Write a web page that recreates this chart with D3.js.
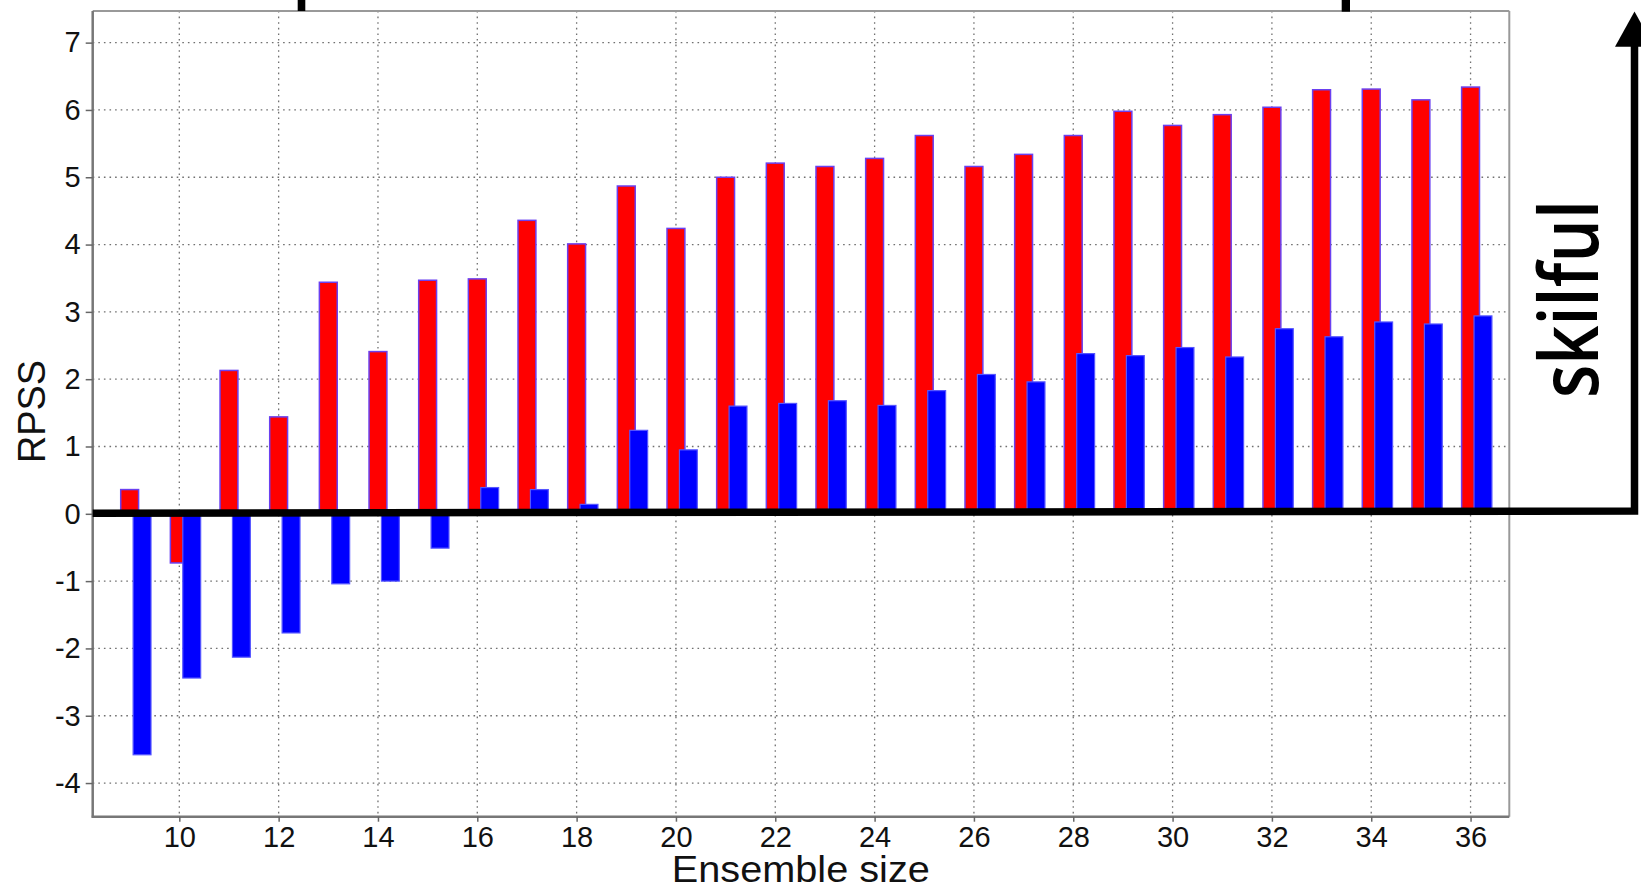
<!DOCTYPE html>
<html>
<head>
<meta charset="utf-8">
<script src="https://cdn.jsdelivr.net/npm/d3@7"></script>
<style>
  html, body { margin: 0; padding: 0; background: #fff; }
  svg { display: block; }
</style>
</head>
<body>
<svg id="chart" width="1641" height="890"></svg>
<script>
// ---- data ----
const categories = [9,10,11,12,13,14,15,16,17,18,19,20,21,22,23,24,25,26,27,28,29,30,31,32,33,34,35,36];
const redValues  = [0.36,-0.73,2.13,1.44,3.44,2.41,3.47,3.49,4.36,4.01,4.87,4.24,5.0,5.21,5.16,5.28,5.62,5.16,5.34,5.62,5.98,5.77,5.93,6.04,6.30,6.31,6.15,6.34];
const blueValues = [-3.58,-2.44,-2.13,-1.77,-1.04,-1.0,-0.51,0.39,0.36,0.14,1.24,0.95,1.6,1.64,1.68,1.61,1.83,2.07,1.96,2.38,2.35,2.47,2.33,2.75,2.63,2.85,2.82,2.94];
const xTicks = [10,12,14,16,18,20,22,24,26,28,30,32,34,36];
const yTicks = [-4,-3,-2,-1,0,1,2,3,4,5,6,7];
const xLabel = "Ensemble size";
const yLabel = "RPSS";
const sideLabel = "skilful";

// ---- layout ----
const svg = d3.select("#chart");
const L = 92.7, R = 1509.3, T = 11, B = 816.7;
const x = d3.scaleLinear().domain([8.256, 36.78]).range([L, R]);
const y = d3.scaleLinear().domain([-4.5, 7.47]).range([B, T]);
const barW = 0.36, blueOff = 0.25;
const font = "'Liberation Sans', Arial, Helvetica, sans-serif";

// gridlines
const grid = svg.append("g");
grid.selectAll("line.gx").data(xTicks).join("line")
  .attr("x1", d => x(d)).attr("x2", d => x(d)).attr("y1", T).attr("y2", B)
  .attr("stroke", "#707070").attr("stroke-width", 1.3).attr("stroke-dasharray", "1.6,4");
grid.selectAll("line.gy").data(yTicks).join("line")
  .attr("x1", L).attr("x2", R).attr("y1", d => y(d)).attr("y2", d => y(d))
  .attr("stroke", "#707070").attr("stroke-width", 1.3).attr("stroke-dasharray", "1.6,4");

// frame
svg.append("line").attr("x1", L).attr("x2", R).attr("y1", T).attr("y2", T).attr("stroke", "#999").attr("stroke-width", 2);
svg.append("line").attr("x1", R).attr("x2", R).attr("y1", T).attr("y2", B).attr("stroke", "#999").attr("stroke-width", 2);
svg.append("line").attr("x1", L).attr("x2", L).attr("y1", T).attr("y2", B + 1).attr("stroke", "#777").attr("stroke-width", 2.5);
svg.append("line").attr("x1", L - 1).attr("x2", R).attr("y1", B).attr("y2", B).attr("stroke", "#777").attr("stroke-width", 2.5);

// axes
const yAxis = svg.append("g").attr("transform", `translate(${L},0)`)
  .call(d3.axisLeft(y).tickValues(yTicks).tickSize(7).tickPadding(5).tickFormat(d => String(d)));
const xAxis = svg.append("g").attr("transform", `translate(0,${B})`)
  .call(d3.axisBottom(x).tickValues(xTicks).tickSize(5).tickPadding(4.5).tickFormat(d => String(d)));
[xAxis, yAxis].forEach(g => {
  g.select(".domain").remove();
  g.selectAll(".tick line").attr("stroke", "#666").attr("stroke-width", 1.5);
  g.selectAll(".tick text").attr("font-family", font).attr("font-size", 29).attr("fill", "#111");
});

// bars
const data = categories.map((c, i) => ({ c, r: redValues[i], b: blueValues[i] }));
const bars = svg.append("g");
data.forEach(d => {
  bars.append("rect")
    .attr("x", x(d.c - barW / 2)).attr("width", x(d.c + barW / 2) - x(d.c - barW / 2))
    .attr("y", y(Math.max(0, d.r))).attr("height", Math.abs(y(d.r) - y(0)))
    .attr("fill", "#ff0000").attr("stroke", "#6a40f0").attr("stroke-width", 1.5);
  bars.append("rect")
    .attr("x", x(d.c + blueOff - barW / 2)).attr("width", x(d.c + blueOff + barW / 2) - x(d.c + blueOff - barW / 2))
    .attr("y", y(Math.max(0, d.b))).attr("height", Math.abs(y(d.b) - y(0)))
    .attr("fill", "#0000ff").attr("stroke", "#5555ff").attr("stroke-width", 1.2);
});

// axis labels
svg.append("text").attr("x", 800.8).attr("y", 882)
  .attr("text-anchor", "middle").attr("font-family", font).attr("font-size", 37)
  .attr("textLength", 258).attr("lengthAdjust", "spacingAndGlyphs").attr("fill", "#111").text(xLabel);
svg.append("text").attr("transform", "translate(45,411.5) rotate(-90)")
  .attr("text-anchor", "middle").attr("font-family", font).attr("font-size", 38)
  .attr("textLength", 103).attr("lengthAdjust", "spacingAndGlyphs").attr("fill", "#111").text(yLabel);

// annotation: thick zero line with arrow
const shaftX = 1634.5;
svg.append("path")
  .attr("d", `M${L},${y(0) - 0.6} L${shaftX},${y(0) - 2.8} L${shaftX},46`)
  .attr("fill", "none").attr("stroke", "#000").attr("stroke-width", 7.5).attr("stroke-linejoin", "miter");
svg.append("path")
  .attr("d", `M${shaftX},11.5 L${shaftX + 19.5},46.7 L${shaftX - 19.5},46.7 Z`)
  .attr("fill", "#000");
svg.append("text").attr("transform", "translate(1598,299) rotate(-90)")
  .attr("text-anchor", "middle").attr("font-family", "'Open Sans', 'Noto Sans', sans-serif")
  .attr("font-size", 82).attr("font-weight", 600)
  .attr("textLength", 198).attr("lengthAdjust", "spacingAndGlyphs").attr("fill", "#000").text(sideLabel);

// remnants of a bracket above the chart
svg.append("rect").attr("x", 297.7).attr("y", 0).attr("width", 7.6).attr("height", 11).attr("fill", "#000");
svg.append("rect").attr("x", 1341.7).attr("y", 0).attr("width", 8.3).attr("height", 11.7).attr("fill", "#000");
</script>
</body>
</html>
